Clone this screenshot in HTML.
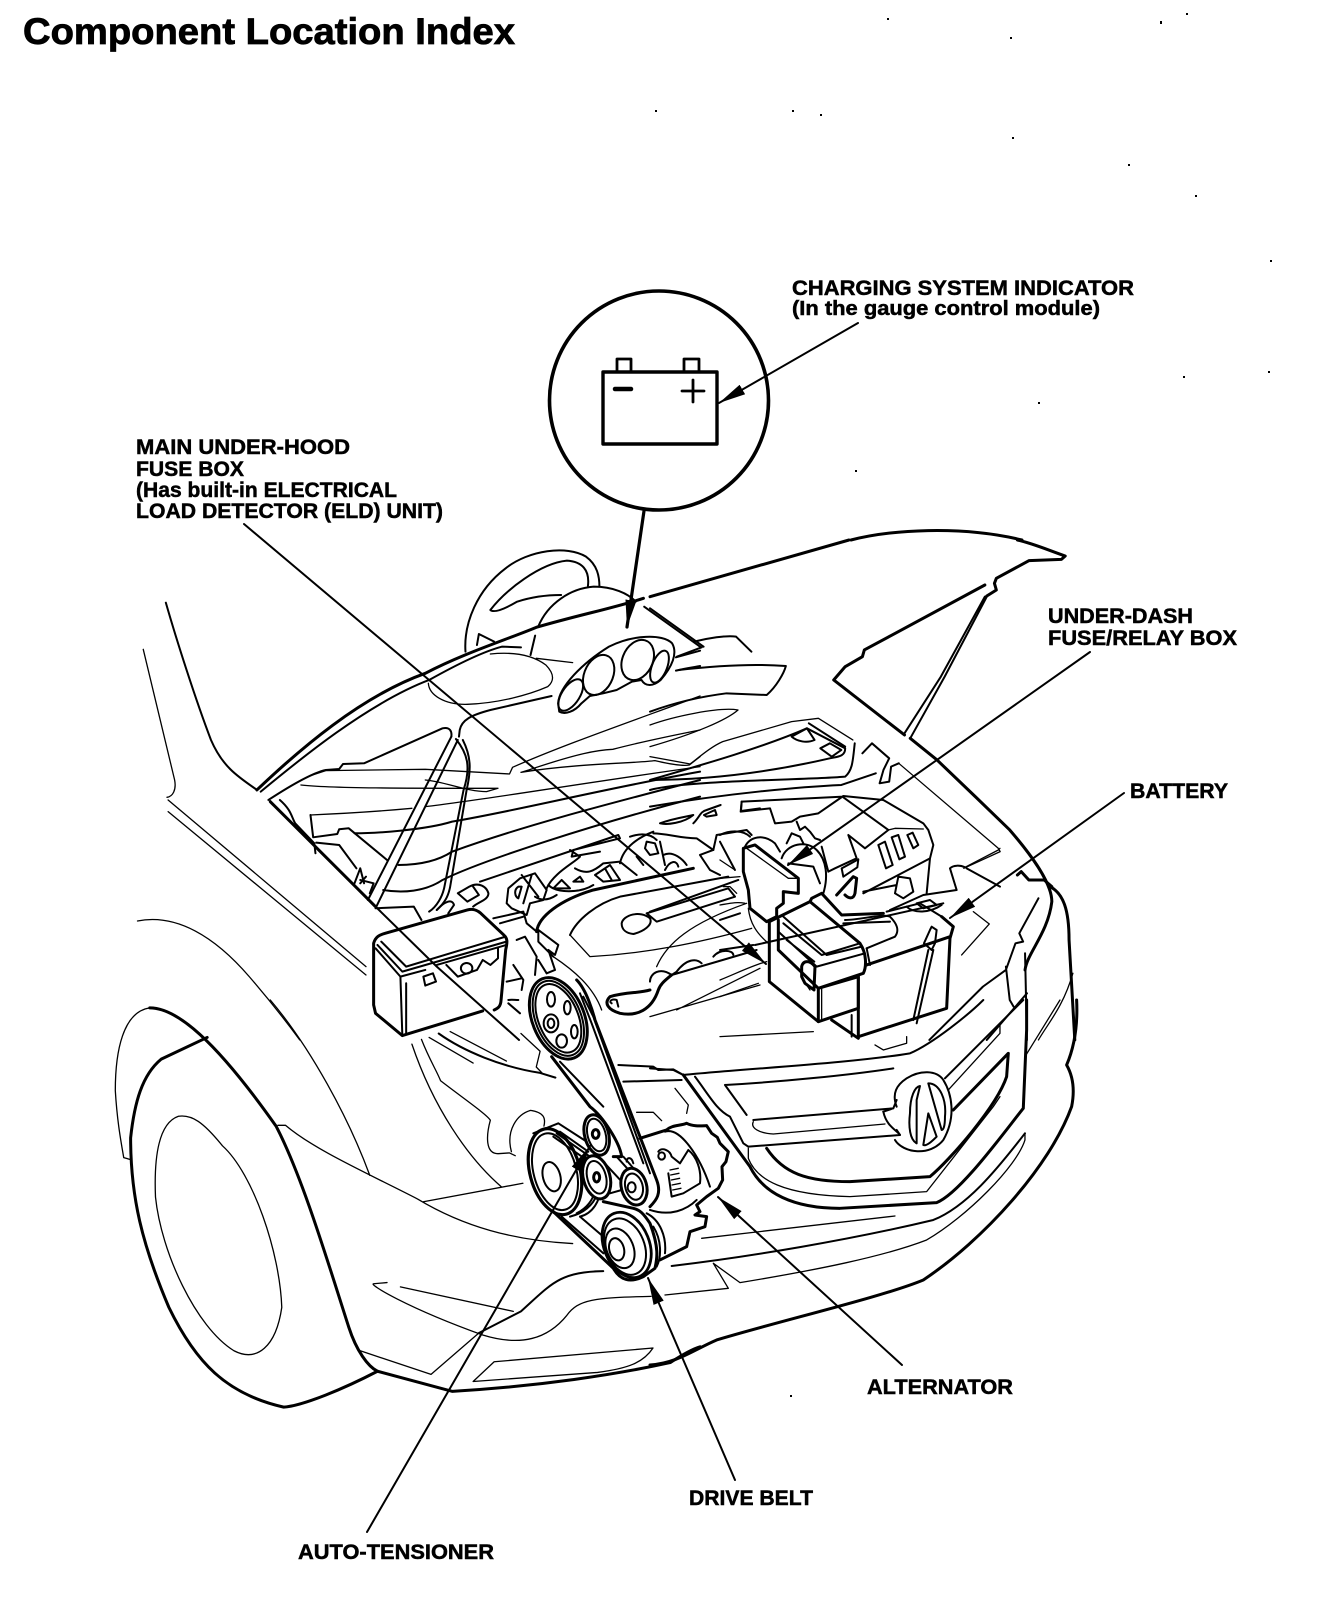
<!DOCTYPE html>
<html><head><meta charset="utf-8"><style>
html,body{margin:0;padding:0;background:#fff}
svg{display:block;position:absolute;left:0;top:0}
svg *{vector-effect:non-scaling-stroke}
.g{fill:none;stroke:#000;stroke-linejoin:round;stroke-linecap:round}
.a{stroke-width:3}
.b{stroke-width:2}
.c{stroke-width:1.3}
text{font-family:"Liberation Sans",Arial,sans-serif;font-weight:700;font-size:21.5px;fill:#000;stroke:#000;stroke-width:.5}
</style></head><body>
<svg width="1328" height="1618" viewBox="0 0 1328 1618" xmlns="http://www.w3.org/2000/svg">
<defs>
<marker id="ar" markerUnits="userSpaceOnUse" markerWidth="30" markerHeight="14" refX="27" refY="7" orient="auto"><path d="M0,1.5L27,7L0,12.5Z" fill="#000" stroke="none"/></marker>
</defs>
<rect width="1328" height="1618" fill="#fff"/>
<text x="23" y="44" style="font-size:37px;stroke-width:.8" textLength="492" lengthAdjust="spacingAndGlyphs">Component Location Index</text>
<text x="792" y="295" textLength="342" lengthAdjust="spacingAndGlyphs">CHARGING SYSTEM INDICATOR</text>
<text x="792" y="315" style="font-size:20px" textLength="308" lengthAdjust="spacingAndGlyphs">(In the gauge control module)</text>
<text x="136" y="454" textLength="214" lengthAdjust="spacingAndGlyphs">MAIN UNDER-HOOD</text>
<text x="136" y="476" textLength="108" lengthAdjust="spacingAndGlyphs">FUSE BOX</text>
<text x="136" y="497" textLength="261" lengthAdjust="spacingAndGlyphs">(Has built-in ELECTRICAL</text>
<text x="136" y="518" textLength="307" lengthAdjust="spacingAndGlyphs">LOAD DETECTOR (ELD) UNIT)</text>
<text x="1048" y="623" textLength="145" lengthAdjust="spacingAndGlyphs">UNDER-DASH</text>
<text x="1048" y="645" textLength="189" lengthAdjust="spacingAndGlyphs">FUSE/RELAY BOX</text>
<text x="1130" y="798" textLength="98" lengthAdjust="spacingAndGlyphs">BATTERY</text>
<text x="867" y="1394" textLength="146" lengthAdjust="spacingAndGlyphs">ALTERNATOR</text>
<text x="689" y="1505" textLength="124" lengthAdjust="spacingAndGlyphs">DRIVE BELT</text>
<text x="298" y="1559" textLength="196" lengthAdjust="spacingAndGlyphs">AUTO-TENSIONER</text>

<g class="g">
<circle cx="659" cy="400.5" r="109.5" stroke-width="3.6"/>
<path stroke-width="3.4" d="M603,372H717V444H603Z"/>
<path stroke-width="2.8" d="M617,372V359H631V372M684,372V359H699V372"/>
<path stroke-width="4.5" d="M615,389H631"/>
<path stroke-width="2.8" d="M682,391H704M693,380V402"/>
<path class="a" d="M851,540C890,530 960,525 1022,540"/>
</g>

<!-- Z2 left top -->
<g class="g b" transform="translate(100,540) scale(.3827,.3333)">
<path d="M955,335C950,250 985,150 1060,85C1120,30 1220,15 1270,50C1300,75 1305,110 1305,140"/>
<path d="M1275,138C1280,90 1260,65 1220,62C1150,70 1060,150 1020,210C1030,220 1060,205 1090,185C1130,170 1170,165 1205,165"/>
<path d="M1145,260C1170,190 1230,145 1290,140C1340,140 1380,160 1400,185"/>
<path class="a" d="M410,750C520,630 680,470 850,400C950,340 1060,300 1140,262C1250,225 1340,205 1420,175"/>
<path d="M420,755C520,660 700,490 860,420C930,375 1000,335 1050,320L1100,322"/>
<path d="M985,315L990,282L1030,305M1125,345L1137,287"/>
<path class="c" d="M1020,342C1080,335 1130,345 1165,375C1190,405 1185,425 1170,440C1120,465 1040,490 960,493C900,495 860,465 858,430M1140,355L1235,368"/>
<path d="M1197,490C1200,440 1260,370 1330,320C1390,285 1470,280 1495,310C1510,340 1495,380 1465,420C1445,440 1425,440 1415,420L1390,425L1350,450L1315,460L1280,468L1258,490C1240,515 1215,525 1200,515Z"/>
<ellipse cx="1303" cy="405" rx="38" ry="62" transform="rotate(18 1303 405)"/>
<ellipse cx="1405" cy="360" rx="40" ry="62" transform="rotate(18 1405 360)"/>
<ellipse cx="1230" cy="465" rx="24" ry="52" transform="rotate(28 1230 465)"/>
<ellipse cx="1462" cy="380" rx="20" ry="50" transform="rotate(18 1462 380)"/>
<path d="M1505,352L1568,332M1505,392C1530,385 1550,382 1568,378M1422,200L1568,320"/>
<path d="M1180,468L1020,510C970,525 945,540 940,570L938,590"/>
<path d="M918,590L700,1080M935,600L722,1100"/>
<path d="M930,597C960,640 970,680 950,750L900,1040C895,1070 880,1100 860,1115M948,600C970,650 970,690 958,750L915,1040C910,1070 900,1090 880,1110"/>
<path d="M440,780C480,750 550,700 590,690L625,687L635,672L690,670L895,565C915,560 920,575 918,590"/>
<path class="c" d="M555,705L590,692L850,688L1070,702L1078,682C1200,620 1350,560 1568,468"/>
<path class="c" d="M1100,697L1120,690C1250,640 1300,630 1340,628C1400,610 1480,590 1568,570M1100,697C1250,670 1400,670 1450,662C1480,670 1520,680 1540,675L1568,650"/>
<path class="c" d="M525,735C600,745 800,745 1040,745L1010,755C960,755 900,725 850,720"/>
<path class="c" d="M850,800C1000,780 1200,740 1568,680M550,825C650,820 720,815 815,805"/>
<path d="M550,825L557,892L620,882L625,868L650,865L750,960"/>
<path class="a" d="M445,785L720,1100"/>
<path class="b" d="M720,1100L880,1280L1095,1500"/>
<path d="M470,780C500,810 500,830 510,850L560,910L563,940M565,908L625,915L670,985M680,1020L715,1030L705,1060M665,1030L680,985L690,1030M680,1030L695,1010"/>
<path d="M665,880C720,880 850,870 920,845C1100,810 1300,750 1568,695"/>
<path d="M780,975C860,975 900,950 920,935C1100,860 1300,800 1568,720"/>
<path d="M740,1050C790,1060 850,1055 895,1020C1000,960 1300,850 1568,770"/>
<path class="b" d="M172,188C200,300 250,480 290,600C320,680 360,710 408,748"/>
<path class="c" d="M113,328L195,720C200,750 190,770 175,772M178,780L695,1280M178,815L695,1305"/>
<path class="c" d="M98,1143C200,1120 300,1190 390,1310C450,1390 490,1450 522,1500"/>
<path class="a" d="M715,1395L715,1210C720,1190 730,1185 745,1180L960,1110C975,1105 985,1110 995,1120L1055,1185C1065,1195 1065,1205 1060,1230L1048,1380C1047,1400 1040,1405 1030,1410M1000,1413L790,1487L720,1420L715,1395"/>
<path d="M735,1205L800,1280C815,1275 1000,1210 1060,1190M725,1215L790,1295L1062,1205M720,1225L785,1310L850,1290M880,1275L1062,1215M785,1310L790,1487M800,1330L800,1480M845,1310L870,1300L878,1325L850,1337ZM905,1275L935,1310L985,1290L1000,1260L1020,1275L1040,1255L1040,1225"/>
<ellipse cx="958" cy="1285" rx="15" ry="16"/>
<path d="M975,1100C990,1085 1015,1080 1015,1060C1010,1040 990,1025 965,1040L935,1060L960,1085L990,1065L975,1040M880,1110C900,1085 920,1075 925,1095L910,1120M720,1105L820,1100L840,1140"/>
</g>

<!-- Z3 right top -->
<g class="g b" transform="translate(650,540) scale(.3827,.3333)">
<path class="a" d="M0,170L520,0"/>
<path class="a" d="M960,0C1000,10 1040,30 1085,48L1075,58L990,62L905,115L900,130L905,150L880,168M875,135L560,330L555,350L510,380L480,420L665,585"/>
<path class="a" d="M680,595L750,660L850,770L940,870C1000,950 1050,1030 1050,1085C1040,1180 985,1240 980,1290"/>
<path d="M875,170L760,410L665,580M880,170L770,410L680,595"/>
<path d="M0,205L140,320M115,305C150,295 200,285 225,290L265,335M70,350L135,322"/>
<path d="M75,390C150,380 260,370 355,378C350,400 330,440 305,465L200,460C130,470 60,490 0,515"/>
<path class="c" d="M0,555C60,530 180,500 230,510C200,540 120,580 0,620M0,650L105,672C130,650 160,620 190,605L370,545L440,535L530,600"/>
<path d="M0,720C150,670 300,620 410,565L510,625C510,650 490,650 470,655C300,700 150,720 0,720"/>
<path d="M370,590L410,565L430,600C410,610 385,605 370,590M415,550L510,620M445,625L470,610L500,630L475,650Z"/>
<path d="M0,750C100,720 420,720 510,710C530,690 530,660 535,610M0,800C200,760 400,740 500,735L590,700"/>
<path d="M555,640L580,610L625,655L610,690L600,730L625,725L630,680L650,670"/>
<path class="c" d="M650,670L910,925L915,935L820,985"/>
<path class="a" d="M1045,1040C1080,1060 1095,1110 1095,1200L1110,1500"/>
<path class="a" d="M960,1005L970,995L990,1020L1030,1020L1050,1040"/>
<path d="M1015,1075L965,1180L975,1205L955,1210L930,1290L870,1340L730,1500M985,1360L880,1500M980,1240L985,1500M930,1280L940,1380L950,1400"/>
<path class="c" d="M1105,1300C1080,1400 1040,1450 1015,1500"/>
</g>

<!-- Z7 battery area -->
<g class="g b" transform="translate(720,780) scale(.3333)">
<path d="M65,65L370,50M65,65L62,95L150,85L165,130L215,125L240,110L295,100M295,100L370,48L490,60L610,130L625,150L640,195L630,235L430,340M630,235L620,340"/>
<path d="M370,52L505,150L435,205L385,165L410,235L345,265L325,275L305,200"/>
<path class="c" d="M505,150L525,145L610,147"/>
<path d="M475,195L495,185L518,255L498,265ZM515,172L535,165L555,230L538,238ZM562,165L578,158L595,195L580,205ZM370,290L365,265L415,238L412,262Z"/>
<path d="M185,235C200,190 260,180 290,210C320,240 325,290 310,340M205,250L280,260L300,310M200,190L215,160L240,170L250,190M230,125L240,150L255,140L270,155L285,175L300,180"/>
<path class="a" d="M70,205L105,195L235,295L235,340L190,335L190,370L170,385L170,410L140,425L90,385L85,330L70,275Z"/>
<path class="c" d="M80,205L205,295L235,295"/>
<path d="M75,200C90,170 130,160 165,190L180,215M0,165C30,150 70,150 90,170"/>
<path class="a" d="M148,425L148,605L295,725L415,685L415,590L295,625M148,425L270,365L420,490C440,520 440,560 430,580L295,625L175,510L175,420"/>
<path d="M190,430L305,525L420,490M190,410L320,525L425,500M175,455L290,560L435,520M200,480L283,545"/>
<path class="a" d="M270,365L275,355L305,340L365,405L490,400"/>
<path d="M375,420C420,420 490,400 510,410C530,430 540,450 525,470L440,505M370,430L510,425"/>
<path class="a" d="M415,590L415,770L680,685L690,475L700,440L665,410M440,555L690,470M335,720L415,775"/>
<path d="M395,705L395,770M440,505L450,555M105,495L670,370M510,390L610,345L710,330L690,265C700,255 720,255 735,262M740,265L840,320"/>
<path class="c" d="M735,262L835,210L840,205"/>
<path class="a" d="M350,345L400,290L410,295L405,340C400,360 385,355 375,345"/>
<path d="M430,335L530,315L535,290L570,295L580,335L550,355L525,340L530,315M560,380C580,400 630,400 665,375M590,370L630,360L650,375L610,385Z"/>
<path d="M635,440L650,450L645,490L635,510L612,490L630,450ZM625,510L580,720M640,510L590,730M665,410L600,370L500,395"/>
<path class="c" d="M760,395L808,432L725,525"/>
<path class="a" d="M245,560C250,540 270,540 285,560L282,630L255,610L245,590ZM295,625L295,725"/>
<path class="c" d="M305,625L305,720M250,600L270,630M0,600C50,580 100,555 140,545M0,650L115,610M0,770L280,755M85,385C90,430 110,460 145,490M465,795L490,810L560,790L560,770"/>
<path d="M0,510L100,495M0,420L60,400"/>
<path class="c" d="M0,375C30,370 50,365 75,370M10,320L30,320L50,340M0,295L60,290M0,240L45,270"/>
</g>

<!-- Z8 engine -->
<g class="g b" transform="translate(480,800) scale(.3333)">
<path d="M0,245L415,105L420,115L280,150L275,170L360,155"/>
<path d="M540,70C580,55 620,50 640,45C610,70 560,75 540,70ZM640,70C660,50 660,35 680,30L722,15M672,45L705,30L710,45L680,50ZM785,5L783,33L840,25"/>
<path d="M80,310L85,265L120,235L165,220L200,270L190,300L150,310L140,345L95,325ZM115,260C100,270 105,290 115,295L125,260ZM125,225L175,290M155,225L130,310"/>
<path d="M165,290C180,300 200,305 230,285M200,265C220,220 280,190 300,170L270,150M205,255C230,280 300,280 340,255M220,265L245,240L270,265ZM280,245L300,230L310,245Z"/>
<path d="M345,225L390,195L420,240L370,245ZM375,205L395,240M285,205C320,225 340,215 370,190L420,185M420,190C430,140 480,110 520,95M420,185L470,225"/>
<path d="M495,145L500,125L525,130L535,160L510,165ZM470,170L490,195M540,125L555,195M520,100C560,100 600,115 650,115L700,150L660,165L690,210L720,225M550,165C580,150 610,180 620,195M555,210C570,180 590,180 595,200M450,110C480,100 510,100 530,120"/>
<path d="M700,150L710,105L800,90L815,105M720,125L765,210"/>
<path class="a" d="M170,395C175,350 240,300 340,270L640,205"/>
<path d="M270,405C290,360 350,310 420,290L745,230M510,335L775,240"/>
<path class="c" d="M270,405L330,470C500,460 650,430 815,385M530,500C560,430 630,370 800,310"/>
<path d="M425,370C430,345 480,330 510,355C520,375 490,395 460,402C440,400 425,390 425,370ZM500,340L745,265L765,290L530,365Z"/>
<path class="b" d="M510,545C510,520 540,500 575,525L590,515C620,475 650,475 665,490M700,470C720,445 760,450 760,465M575,525L830,450"/>
<path class="a" d="M510,570C480,580 440,575 390,590C370,610 385,630 420,640C470,650 515,630 535,570C540,555 550,545 575,525"/>
<path d="M395,610C385,605 395,595 410,600L415,620"/>
<path class="c" d="M510,650L840,555M590,630L840,505"/>
<path d="M40,355L130,335L140,370L170,395M60,370L130,350M175,390L235,435L225,465L205,450L225,510L200,520M175,395L175,425L220,470"/>
<path d="M110,420L135,410L170,470L165,525M200,520L175,480M80,545L125,535M100,495L130,540L125,570M85,610L120,640M85,600C95,598 105,600 115,600"/>
<path class="c" d="M220,470C280,510 340,560 365,630"/>
</g>

<!-- Z4 wheel -->
<g class="g b" transform="translate(100,1000) scale(.3827,.3941)">
<path class="a" d="M280,95L160,150C110,190 90,260 80,350C80,500 110,620 180,780C250,920 330,1000 480,1033C530,1030 640,985 725,942"/>
<path class="a" d="M130,20C200,20 300,100 460,320C530,450 600,680 650,830C670,890 700,930 725,942L920,993C1150,980 1350,950 1490,920C1530,895 1550,885 1568,880"/>
<path class="c" d="M130,20C60,30 40,130 40,230C45,310 55,360 62,400L80,405"/>
<path class="c" d="M205,295C160,310 140,380 145,500C160,640 250,830 350,890C410,920 460,880 475,780C470,640 400,440 320,370C270,310 240,290 205,295Z"/>
<path class="c" d="M445,0C550,120 650,300 705,445M465,318L485,318C560,380 700,440 830,505C950,575 1080,610 1235,618M845,512L1105,465M815,112C870,270 960,400 1050,475"/>
<path class="c" d="M840,100C860,150 880,180 890,205C950,250 1010,290 1020,305C1010,340 1005,390 1040,390L1070,388L1085,395M1075,385C1060,330 1090,290 1125,280C1160,285 1165,300 1160,320"/>
<path class="b" d="M885,85C950,130 1050,170 1150,185L1190,197"/>
<path class="c" d="M915,80L1062,155M860,95L975,160M1100,85L1150,130L1140,170L1155,185"/>
<path class="c" d="M715,720C700,720 800,780 1000,850C1100,880 1170,860 1220,800C1250,760 1290,755 1440,752M715,720L750,717M785,728L1080,790"/>
<path class="c" d="M680,890L865,950L990,845"/>
<path class="b" d="M990,845L1100,790C1180,720 1200,690 1315,688"/>
<path class="c" d="M975,968L1030,918L1445,883C1420,920 1380,935 1300,945Z"/>
</g>

<!-- Z5 belt & pulleys -->
<g class="g b" transform="translate(480,960) scale(.3333)">
<path d="M415,315L520,320L535,330L580,328L610,345M430,365L605,360"/>
<path class="c" d="M585,385L625,435L620,460M470,457L520,457L545,482"/>
<path class="a" d="M480,535L560,510C575,495 600,498 620,490C640,500 660,498 680,497L695,520L712,532L720,550L745,575L738,605L726,620L728,660L715,685L680,710L650,735L660,755L645,765L680,770L675,800L630,815L620,860L540,900"/>
<path d="M555,515C600,500 660,590 690,680M535,575C545,560 570,570 575,590L600,610L625,570C650,590 665,630 660,670L610,700L575,710L565,640M510,750C570,770 620,750 650,720M500,760C540,780 560,830 555,880"/>
<path class="c" d="M570,630L595,625M572,645L597,640M574,660L599,655M576,675L601,670M578,690L603,685"/>
<ellipse cx="545" cy="588" rx="10" ry="11"/>
<ellipse cx="235" cy="175" rx="78" ry="128" transform="rotate(-22 235 175)" fill="#fff" style="stroke-width:3"/>
<ellipse cx="235" cy="175" rx="68" ry="118" transform="rotate(-22 235 175)"/>
<ellipse cx="235" cy="175" rx="60" ry="108" transform="rotate(-22 235 175)"/>
<ellipse cx="213" cy="118" rx="12" ry="22"/>
<ellipse cx="262" cy="143" rx="10" ry="20"/>
<ellipse cx="283" cy="215" rx="10" ry="20"/>
<ellipse cx="245" cy="243" rx="16" ry="20"/>
<ellipse cx="213" cy="190" rx="22" ry="27"/>
<ellipse cx="213" cy="190" rx="10" ry="14"/>
<path class="a" d="M290,60C320,90 340,160 345,180L530,660C545,700 530,720 510,740"/>
<path d="M310,110L340,170L510,640M300,100L335,190L490,610"/>
<path class="a" d="M215,290L330,440C370,470 420,550 425,590L400,590"/>
<path d="M240,305L370,440M430,590L465,630M410,590L500,690M365,600L430,670M390,700L425,690"/>
<ellipse cx="350" cy="525" rx="36" ry="62" transform="rotate(-15 350 525)" fill="#fff" style="stroke-width:3"/>
<ellipse cx="350" cy="525" rx="27" ry="50" transform="rotate(-15 350 525)"/>
<ellipse cx="347" cy="522" rx="10" ry="13" stroke-width="3"/>
<path d="M160,520L235,490L320,545M300,770C340,760 360,720 360,690M290,760C320,745 340,720 345,690M270,770C310,760 340,735 350,705"/>
<ellipse cx="225" cy="635" rx="75" ry="132" transform="rotate(-15 225 635)" fill="#fff" style="stroke-width:3.2"/>
<ellipse cx="225" cy="635" rx="64" ry="118" transform="rotate(-15 225 635)"/>
<ellipse cx="215" cy="650" rx="26" ry="45" transform="rotate(-15 215 650)"/>
<path d="M230,520L330,590M220,530L320,600M240,515L325,575"/>
<ellipse cx="350" cy="652" rx="40" ry="66" transform="rotate(-15 350 652)" fill="#fff" style="stroke-width:3"/>
<ellipse cx="350" cy="652" rx="28" ry="50" transform="rotate(-15 350 652)"/>
<ellipse cx="350" cy="652" rx="9" ry="14" stroke-width="3"/>
<ellipse cx="462" cy="680" rx="38" ry="56" transform="rotate(-15 462 680)" fill="#fff" style="stroke-width:3"/>
<ellipse cx="462" cy="680" rx="26" ry="40" transform="rotate(-15 462 680)"/>
<ellipse cx="455" cy="682" rx="12" ry="15"/>
<path d="M440,605C440,590 455,590 460,610"/>
<path class="a" d="M220,755L400,925C420,960 450,970 490,950L525,925C530,900 540,870 510,790C490,760 480,750 460,745L370,725"/>
<path d="M245,770L370,880M300,770L370,830M520,800C545,840 545,890 530,920"/>
<ellipse cx="440" cy="855" rx="68" ry="102" transform="rotate(-22 440 855)" fill="#fff" style="stroke-width:2.8"/>
<ellipse cx="435" cy="860" rx="58" ry="88" transform="rotate(-22 435 860)"/>
<ellipse cx="420" cy="865" rx="40" ry="62" transform="rotate(-22 420 865)"/>
<ellipse cx="410" cy="868" rx="22" ry="34" transform="rotate(-15 410 868)"/>
</g>

<!-- Z6 bumper -->
<g class="g b" transform="translate(650,1000) scale(.3333)">
<path d="M100,225C300,205 600,190 780,160C850,130 960,40 1000,0"/>
<path d="M135,230C180,290 200,330 240,350L280,430L295,440"/>
<path class="a" d="M100,225L300,500C340,580 430,625 570,625L860,608C930,580 1060,400 1120,325L1130,90L1130,0"/>
<path class="c" d="M295,445L295,475C320,540 400,585 600,590L830,575L1030,320L1050,290"/>
<path class="a" d="M350,445C400,520 470,545 600,545L840,530C900,480 1040,320 1070,230L1075,160L910,330"/>
<path class="c" d="M1050,75L1050,100L895,270"/>
<path class="b" d="M225,255C400,245 600,225 730,205M225,255L290,345M885,235L1120,0"/>
<path class="c" d="M1125,170L1230,0"/>
<path class="b" d="M880,240C860,210 810,210 770,235C740,255 725,280 740,320M700,335C710,380 740,390 750,405M735,420C760,460 840,470 880,420C920,350 905,280 880,240"/>
<path class="b" d="M780,340C780,290 795,260 810,258L800,300L800,430C780,420 775,380 780,340ZM835,250C870,250 890,300 885,350C885,380 880,390 875,390ZM820,435L835,340L860,410C850,420 830,440 820,435Z"/>
<path class="b" d="M310,360L730,325L740,300M295,440L750,405L740,390M700,335L730,325"/>
<path class="c" d="M310,365C300,385 330,400 370,402L705,372"/>
<path class="c" d="M155,715L735,648"/>
<path class="b" d="M65,798C300,770 600,720 850,660C950,620 1040,510 1125,400"/>
<path class="c" d="M1125,400L1125,420C1100,500 950,650 830,720C700,770 500,810 270,848L190,790M190,790L235,865L45,885"/>
<path class="a" d="M1280,0C1285,100 1265,160 1250,195C1270,230 1275,270 1265,320C1200,500 1000,720 820,840C700,890 400,960 200,1020C130,1050 80,1090 0,1095"/>
<path class="b" d="M0,205L70,210L100,225"/>
</g>

<!-- leaders on top -->
<g class="g">
<path class="b" marker-end="url(#ar)" d="M858,323L719,403"/>
<path stroke-width="3.2" marker-end="url(#ar)" d="M644,511L627,627"/>
<path class="b" marker-end="url(#ar)" d="M244,524L766,964"/>
<path class="b" marker-end="url(#ar)" d="M1090,652L788,865"/>
<path class="b" marker-end="url(#ar)" d="M1124,793L950,918"/>
<path class="b" marker-end="url(#ar)" d="M902,1365L718,1197"/>
<path class="b" marker-end="url(#ar)" d="M735,1480L648,1278"/>
<path class="b" marker-end="url(#ar)" d="M367,1532L590,1146"/>
</g>

<g fill="#000">
<rect x="887" y="18" width="2" height="2"/><rect x="1160" y="21" width="2" height="3"/><rect x="1186" y="13" width="2" height="2"/><rect x="1010" y="37" width="2" height="2"/><rect x="655" y="110" width="2" height="2"/><rect x="792" y="110" width="2" height="2"/><rect x="820" y="114" width="2" height="2"/><rect x="1012" y="137" width="2" height="2"/><rect x="1128" y="164" width="2" height="2"/><rect x="1195" y="195" width="2" height="2"/><rect x="1270" y="260" width="2" height="2"/><rect x="1183" y="376" width="2" height="2"/><rect x="1268" y="371" width="2" height="2"/><rect x="1038" y="402" width="2" height="2"/><rect x="855" y="470" width="2" height="2"/><rect x="790" y="1395" width="2" height="2"/>
</g>
</svg>
</body></html>
